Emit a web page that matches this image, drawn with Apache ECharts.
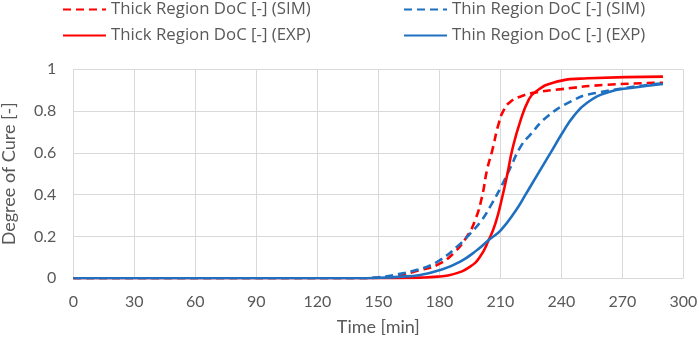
<!DOCTYPE html>
<html>
<head>
<meta charset="utf-8">
<script src="https://cdn.jsdelivr.net/npm/echarts@6/dist/echarts.min.js"></script>
<style>
  html, body { margin: 0; padding: 0; background: #fff; }
  #chart { width: 699px; height: 339px; }
</style>
</head>
<body>
<div id="chart"></div>
<script>
// values
const seriesNames = [
  'Thick Region DoC [-] (SIM)',
  'Thin Region DoC [-] (SIM)',
  'Thick Region DoC [-] (EXP)',
  'Thin Region DoC [-] (EXP)',
]

const thickSimTime = [0, 140, 150, 160, 170, 179, 187, 193.6, 197.7, 201, 203.5, 206, 209.2, 211.7, 215, 220, 228, 240, 261, 290]
const thickSimVal = [0, 0, 0.003, 0.014, 0.038, 0.064, 0.12, 0.2, 0.28, 0.39, 0.52, 0.61, 0.74, 0.805, 0.845, 0.87, 0.89, 0.905, 0.925, 0.936]

const thinSimTime = [0, 140, 150, 160, 167, 174, 180.5, 188.7, 195.3, 201, 206, 210, 215, 220, 225, 233, 244.5, 256, 290]
const thinSimVal = [0, 0, 0.005, 0.02, 0.035, 0.055, 0.088, 0.151, 0.215, 0.28, 0.36, 0.43, 0.53, 0.63, 0.69, 0.773, 0.845, 0.885, 0.933]

const thickExpTime = [0, 150, 160, 170, 179, 187, 195, 200, 204.3, 207.6, 211, 213.5, 216, 220, 224, 227, 236, 253, 290]
const thickExpVal = [0, 0, 0.001, 0.003, 0.008, 0.02, 0.055, 0.103, 0.183, 0.263, 0.39, 0.5, 0.62, 0.757, 0.855, 0.89, 0.936, 0.957, 0.965]

const thinExpTime = [0, 140, 150, 160, 170.6, 180.5, 190.3, 198.6, 204.3, 210.3, 217.8, 222.4, 228.5, 234.7, 240.5, 246, 252.7, 263, 275, 290]
const thinExpVal = [0, 0, 0.002, 0.007, 0.016, 0.04, 0.08, 0.135, 0.183, 0.231, 0.327, 0.4, 0.5, 0.6, 0.695, 0.775, 0.84, 0.89, 0.912, 0.93]

const red = '#ff0000'
const blue = '#1f70c1'
const grey = '#595959'
const font = 'Lato'

function pairs(ts, vs) {
  return ts.map((t, i) => [t, vs[i]])
}

function line(name, ts, vs, color, dashed) {
  return {
    name: name,
    type: 'line',
    data: pairs(ts, vs),
    smooth: 0.5,
    showSymbol: false,
    symbol: 'circle',
    lineStyle: { color: color, width: 2.6, type: dashed ? [8, 5] : 'solid' },
    itemStyle: { color: color },
  }
}

const chart = echarts.init(document.getElementById('chart'))

const legendBase = {
  orient: 'vertical',
  top: 0,
  padding: 0,
  itemWidth: 43,
  itemHeight: 14,
  itemGap: 7,
  itemStyle: { opacity: 0 },
  textStyle: { color: grey, fontFamily: 'Open Sans', fontSize: 16.8, lineHeight: 19 },
}

chart.setOption({
  animation: false,
  backgroundColor: '#fff',
  legend: [
    Object.assign({}, legendBase, { data: [seriesNames[0], seriesNames[2]], left: 62 }),
    Object.assign({}, legendBase, { data: [seriesNames[1], seriesNames[3]], left: 403 }),
  ],
  grid: { left: 73.3, right: 15.7, top: 69.3, bottom: 60.7, containLabel: false, outerBoundsMode: 'none' },
  xAxis: {
    type: 'value',
    min: 0,
    max: 300,
    interval: 30,
    name: 'Time [min]',
    nameLocation: 'middle',
    nameGap: 40,
    nameTextStyle: { color: grey, fontFamily: font, fontSize: 18 },
    axisLine: { show: false },
    axisTick: { show: false },
    axisLabel: { color: grey, fontFamily: font, fontSize: 16, margin: 16 },
    splitLine: { show: true, lineStyle: { color: '#d9d9d9', width: 1 } },
  },
  yAxis: {
    type: 'value',
    min: 0,
    max: 1,
    interval: 0.2,
    name: 'Degree of Cure [-]',
    nameLocation: 'middle',
    nameGap: 55,
    nameTextStyle: { color: grey, fontFamily: font, fontSize: 18 },
    axisLine: { show: false },
    axisTick: { show: false },
    axisLabel: { color: grey, fontFamily: font, fontSize: 16, margin: 17 },
    splitLine: { show: true, lineStyle: { color: '#d9d9d9', width: 1 } },
  },
  series: [
    line(seriesNames[0], thickSimTime, thickSimVal, red, true),
    line(seriesNames[1], thinSimTime, thinSimVal, blue, true),
    line(seriesNames[2], thickExpTime, thickExpVal, red, false),
    line(seriesNames[3], thinExpTime, thinExpVal, blue, false),
  ],
})
</script>
</body>
</html>
